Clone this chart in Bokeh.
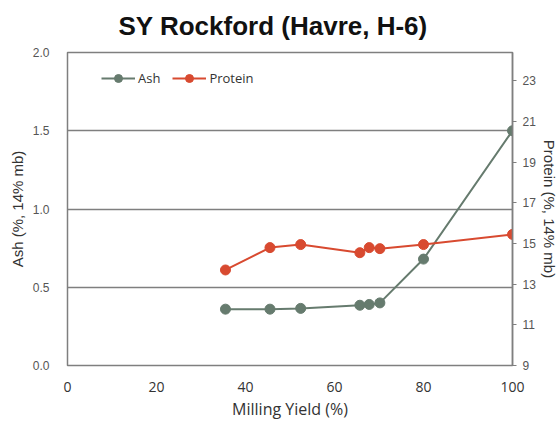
from bokeh.plotting import figure
from bokeh.models import (Range1d, LinearAxis, FixedTicker, Legend, LegendItem, Title,
                          NumeralTickFormatter)
from bokeh.embed import file_html
from bokeh.resources import INLINE

# Data
milling_yield = [35.5, 45.5, 52.4, 65.7, 67.8, 70.2, 80.0, 100.0]
ash = [0.36, 0.36, 0.365, 0.385, 0.39, 0.40, 0.68, 1.50]
protein = [13.7, 14.8, 14.95, 14.55, 14.8, 14.75, 14.95, 15.45]
x_ticks = [0, 20, 40, 60, 80, 100]
ash_ticks = [0.0, 0.5, 1.0, 1.5, 2.0]
protein_ticks = [9, 11, 13, 15, 17, 19, 21, 23]

ASH_C = "#667b6e"
PRO_C = "#d84a30"
GRID_C = "#7f7f7f"
TXT_C = "#555555"

p = figure(width=560, height=423, output_backend="svg", toolbar_location=None,
           x_range=Range1d(0, 100), y_range=Range1d(0, 2.0),
           min_border_left=67, min_border_right=48, min_border_top=49, min_border_bottom=58)
p.extra_y_ranges = {"protein": Range1d(9, 24.4)}

p.title = Title(text="SY Rockford (Havre, H-6)", align="left", vertical_align="top",
                text_font="Liberation Sans", text_font_size="26px",
                text_font_style="bold", text_color="#111111", offset=51, standoff=20)

p.outline_line_color = GRID_C
p.outline_line_width = 1.5
p.xgrid.visible = False
p.ygrid.ticker = FixedTicker(ticks=ash_ticks)
p.ygrid.grid_line_color = GRID_C
p.ygrid.grid_line_width = 1.5

# left axis
ly = p.yaxis[0]
ly.ticker = FixedTicker(ticks=ash_ticks)
ly.formatter = NumeralTickFormatter(format="0.0")
ly.axis_line_color = None
ly.major_tick_line_color = None
ly.minor_tick_line_color = None
ly.major_label_text_font = "Liberation Sans"
ly.major_label_text_font_size = "12px"
ly.major_label_text_color = TXT_C
ly.major_label_standoff = 12
ly.axis_label = "Ash (%, 14% mb)"
ly.axis_label_text_font = "Liberation Sans"
ly.axis_label_text_font_size = "15px"
ly.axis_label_text_font_style = "normal"
ly.axis_label_text_color = "#333333"
ly.axis_label_standoff = 4

# bottom axis
bx = p.xaxis[0]
bx.ticker = FixedTicker(ticks=x_ticks)
bx.axis_line_color = None
bx.major_tick_line_color = None
bx.minor_tick_line_color = None
bx.major_label_text_font = "Open Sans"
bx.major_label_text_font_size = "14px"
bx.major_label_text_color = "#333333"
bx.major_label_standoff = 10
bx.axis_label = "Milling Yield (%)"
bx.axis_label_text_font = "Open Sans"
bx.axis_label_text_font_size = "16px"
bx.axis_label_text_font_style = "normal"
bx.axis_label_text_color = "#333333"
bx.axis_label_standoff = 3

# right axis
ry = LinearAxis(y_range_name="protein", ticker=FixedTicker(ticks=protein_ticks))
ry.axis_line_color = GRID_C
ry.axis_line_width = 1.5
ry.major_tick_line_color = GRID_C
ry.major_tick_in = 0
ry.major_tick_out = 4
ry.minor_tick_line_color = None
ry.major_label_text_font = "Liberation Sans"
ry.major_label_text_font_size = "12px"
ry.major_label_text_color = TXT_C
ry.major_label_standoff = 6
ry.axis_label = "Protein (%, 14% mb)"
ry.axis_label_text_font = "Liberation Sans"
ry.axis_label_text_font_size = "15px"
ry.axis_label_text_font_style = "normal"
ry.axis_label_text_color = "#333333"
ry.axis_label_standoff = 2
p.add_layout(ry, "right")

# series
l1 = p.line(milling_yield, ash, line_color=ASH_C, line_width=2)
c1 = p.scatter(milling_yield, ash, size=10, fill_color=ASH_C, line_color=ASH_C)
l2 = p.line(milling_yield, protein, line_color=PRO_C, line_width=2, y_range_name="protein")
c2 = p.scatter(milling_yield, protein, size=10, fill_color=PRO_C, line_color=PRO_C,
               y_range_name="protein")

legend = Legend(items=[LegendItem(label="Ash", renderers=[l1, c1]),
                       LegendItem(label="Protein", renderers=[l2, c2])],
                location=(34, 277), orientation="horizontal",
                background_fill_alpha=0, border_line_color=None,
                label_text_font="Open Sans", label_text_font_size="13px",
                label_text_color="#333333", glyph_width=34, spacing=12,
                padding=4, label_standoff=3)
p.add_layout(legend, "center")

open("out.html", "w").write(file_html(p, INLINE))
